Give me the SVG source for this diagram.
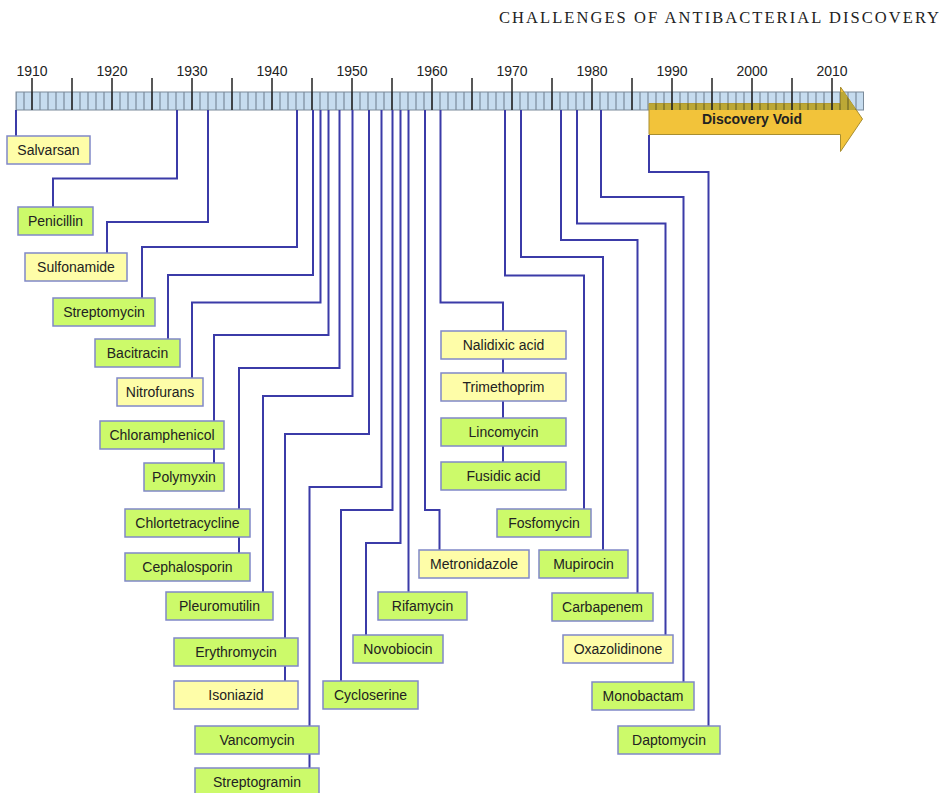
<svg xmlns="http://www.w3.org/2000/svg" width="942" height="793" viewBox="0 0 942 793">
  <defs>
    <!-- one-year cells of the timeline bar: 8 px per year -->
    <pattern id="cells" patternUnits="userSpaceOnUse" x="-0.5" y="92" width="8" height="18">
      <rect x="0" y="0" width="8" height="18" fill="#c6dcef"/>
      <rect x="0" y="0" width="1" height="18" fill="#6a7a8a"/>
    </pattern>
    <!-- same cells where the gold arrow lies under the bar -->
    <pattern id="cellsGold" patternUnits="userSpaceOnUse" x="-0.5" y="92" width="8" height="18">
      <rect x="0" y="0" width="8" height="18" fill="#bca836"/>
      <rect x="0" y="0" width="1" height="18" fill="#5e581f"/>
    </pattern>
    <clipPath id="arrowClip">
      <polygon points="649,103.5 840.5,103.5 840.5,87 862.5,119 840.5,151.5 840.5,134.5 649,134.5"/>
    </clipPath>
    <style>
      .box { stroke: #8088c8; stroke-width: 1.5; }
      .green { fill: #ccfa6a; }
      .yellow { fill: #fefda8; }
      .lbl { font-family: "Liberation Sans", Arial, sans-serif; font-size: 14px; fill: #222; text-anchor: middle; }
      .year { font-family: "Liberation Sans", Arial, sans-serif; font-size: 14px; fill: #222; text-anchor: middle; }
      .conn { fill: none; stroke: #3b3ba8; stroke-width: 2; stroke-linejoin: miter; }
    </style>
  </defs>
  <rect width="942" height="793" fill="#ffffff"/>

  <!-- running head -->
  <text x="499" y="23" font-family="'Liberation Serif', 'Times New Roman', serif" font-size="16.5" fill="#222" textLength="440" lengthAdjust="spacing">CHALLENGES OF ANTIBACTERIAL DISCOVERY</text>

  <!-- timeline bar and discovery void arrow -->
  <g id="timeline">
    <rect x="16" y="92" width="847.5" height="18" fill="url(#cells)" stroke="#7a8a99" stroke-width="1"/>
    <polygon points="649,103.5 840.5,103.5 840.5,87 862.5,119 840.5,151.5 840.5,134.5 649,134.5" fill="#f2c33a" stroke="#a88e30" stroke-width="1"/>
    <rect x="16" y="92" width="847.5" height="18" fill="url(#cellsGold)" clip-path="url(#arrowClip)"/>
    <path d="M32 78V110M72 78V110M112 78V110M152 78V110M192 78V110M232 78V110M272 78V110M312 78V110M352 78V110M392 78V110M432 78V110M472 78V110M512 78V110M552 78V110M592 78V110M632 78V110M672 78V110M712 78V110M752 78V110M792 78V110M832 78V110" stroke="#222" stroke-width="1.5" fill="none"/>
    <g class="year">
      <text x="32" y="75.5">1910</text>
      <text x="112" y="75.5">1920</text>
      <text x="192" y="75.5">1930</text>
      <text x="272" y="75.5">1940</text>
      <text x="352" y="75.5">1950</text>
      <text x="432" y="75.5">1960</text>
      <text x="512" y="75.5">1970</text>
      <text x="592" y="75.5">1980</text>
      <text x="672" y="75.5">1990</text>
      <text x="752" y="75.5">2000</text>
      <text x="832" y="75.5">2010</text>
    </g>
    <text id="discovery-void" x="752" y="124" font-family="'Liberation Sans', Arial, sans-serif" font-size="14" font-weight="bold" fill="#222" text-anchor="middle">Discovery Void</text>
  </g>

  <!-- connectors from discovery year to drug class -->
  <g id="connectors" class="conn">
    <path d="M16 110V136"/>
    <path d="M177 110V178.5H53V207"/>
    <path d="M208 110V222H107V253"/>
    <path d="M297 110V247H142V298"/>
    <path d="M313 110V275H168V339"/>
    <path d="M320.5 110V302.5H192V378"/>
    <path d="M328.5 110V335H214V421M214 449V463"/>
    <path d="M339.5 110V368H239V509M239 537V553"/>
    <path d="M352.5 110V396H263V592"/>
    <path d="M369 110V434H285V638M285 666V681"/>
    <path d="M381.5 110V487H309.5V726M309.5 754V768"/>
    <path d="M392.5 110V510H341V681"/>
    <path d="M400.5 110V543H366V635"/>
    <path d="M408.5 110V592"/>
    <path d="M425 110V510H439.5V550"/>
    <path d="M440.5 110V302.5H503V331M503 359V373M503 401V418M503 446V462"/>
    <path d="M505 110V275.5H584V509"/>
    <path d="M521 110V257H603V550"/>
    <path d="M561 110V240H637.5V593"/>
    <path d="M577 110V223.5H665.5V635"/>
    <path d="M601 110V197H683.5V682"/>
    <path d="M649 135V172H708.5V726"/>
  </g>

  <g id="salvarsan"><rect class="box yellow" x="7" y="136" width="83" height="28"/><text class="lbl" x="48.5" y="155">Salvarsan</text></g>
  <g id="penicillin"><rect class="box green" x="18" y="207" width="75" height="28"/><text class="lbl" x="55.5" y="226">Penicillin</text></g>
  <g id="sulfonamide"><rect class="box yellow" x="25" y="253" width="102" height="28"/><text class="lbl" x="76" y="272">Sulfonamide</text></g>
  <g id="streptomycin"><rect class="box green" x="53" y="298" width="102" height="28"/><text class="lbl" x="104" y="317">Streptomycin</text></g>
  <g id="bacitracin"><rect class="box green" x="95" y="339" width="85" height="28"/><text class="lbl" x="137.5" y="358">Bacitracin</text></g>
  <g id="nitrofurans"><rect class="box yellow" x="117" y="378" width="86" height="28"/><text class="lbl" x="160" y="397">Nitrofurans</text></g>
  <g id="chloramphenicol"><rect class="box green" x="100" y="421" width="124" height="28"/><text class="lbl" x="162" y="440">Chloramphenicol</text></g>
  <g id="polymyxin"><rect class="box green" x="144" y="463" width="80" height="28"/><text class="lbl" x="184" y="482">Polymyxin</text></g>
  <g id="chlortetracycline"><rect class="box green" x="125" y="509" width="125" height="28"/><text class="lbl" x="187.5" y="528">Chlortetracycline</text></g>
  <g id="cephalosporin"><rect class="box green" x="125" y="553" width="125" height="28"/><text class="lbl" x="187.5" y="572">Cephalosporin</text></g>
  <g id="pleuromutilin"><rect class="box green" x="166" y="592" width="107" height="28"/><text class="lbl" x="219.5" y="611">Pleuromutilin</text></g>
  <g id="erythromycin"><rect class="box green" x="174" y="638" width="124" height="28"/><text class="lbl" x="236" y="657">Erythromycin</text></g>
  <g id="isoniazid"><rect class="box yellow" x="174" y="681" width="124" height="28"/><text class="lbl" x="236" y="700">Isoniazid</text></g>
  <g id="vancomycin"><rect class="box green" x="195" y="726" width="124" height="28"/><text class="lbl" x="257" y="745">Vancomycin</text></g>
  <g id="streptogramin"><rect class="box green" x="195" y="768" width="124" height="28"/><text class="lbl" x="257" y="787">Streptogramin</text></g>
  <g id="cycloserine"><rect class="box green" x="323" y="681" width="95" height="28"/><text class="lbl" x="370.5" y="700">Cycloserine</text></g>
  <g id="novobiocin"><rect class="box green" x="353" y="635" width="90" height="28"/><text class="lbl" x="398" y="654">Novobiocin</text></g>
  <g id="rifamycin"><rect class="box green" x="378" y="592" width="89" height="28"/><text class="lbl" x="422.5" y="611">Rifamycin</text></g>
  <g id="metronidazole"><rect class="box yellow" x="419" y="550" width="110" height="28"/><text class="lbl" x="474" y="569">Metronidazole</text></g>
  <g id="nalidixic-acid"><rect class="box yellow" x="441" y="331" width="125" height="28"/><text class="lbl" x="503.5" y="350">Nalidixic acid</text></g>
  <g id="trimethoprim"><rect class="box yellow" x="441" y="373" width="125" height="28"/><text class="lbl" x="503.5" y="392">Trimethoprim</text></g>
  <g id="lincomycin"><rect class="box green" x="441" y="418" width="125" height="28"/><text class="lbl" x="503.5" y="437">Lincomycin</text></g>
  <g id="fusidic-acid"><rect class="box green" x="441" y="462" width="125" height="28"/><text class="lbl" x="503.5" y="481">Fusidic acid</text></g>
  <g id="fosfomycin"><rect class="box green" x="497" y="509" width="94" height="28"/><text class="lbl" x="544" y="528">Fosfomycin</text></g>
  <g id="mupirocin"><rect class="box green" x="539" y="550" width="89" height="28"/><text class="lbl" x="583.5" y="569">Mupirocin</text></g>
  <g id="carbapenem"><rect class="box green" x="552" y="593" width="101" height="28"/><text class="lbl" x="602.5" y="612">Carbapenem</text></g>
  <g id="oxazolidinone"><rect class="box yellow" x="563" y="635" width="110" height="28"/><text class="lbl" x="618" y="654">Oxazolidinone</text></g>
  <g id="monobactam"><rect class="box green" x="592" y="682" width="102" height="28"/><text class="lbl" x="643" y="701">Monobactam</text></g>
  <g id="daptomycin"><rect class="box green" x="618" y="726" width="102" height="28"/><text class="lbl" x="669" y="745">Daptomycin</text></g>
</svg>
